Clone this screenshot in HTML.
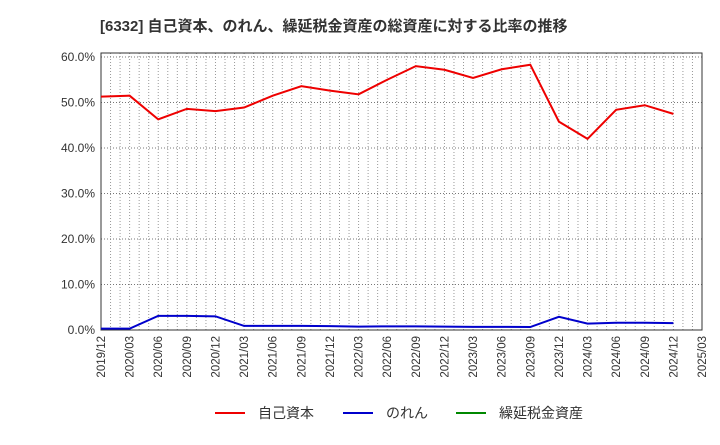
<!DOCTYPE html>
<html><head><meta charset="utf-8"><style>
body{margin:0;background:#fff;font-family:"Liberation Sans","Noto Sans CJK JP",sans-serif}
</style></head><body>
<svg id="c" width="720" height="440" xmlns="http://www.w3.org/2000/svg">
<text x="100" y="31" font-size="15" font-weight="bold" fill="#333" font-family="Liberation Sans, Noto Sans CJK JP, sans-serif">[6332]  自己資本、のれん、繰延税金資産の総資産に対する比率の推移</text>
<g id="grid"></g><g id="axes"></g><g id="series"></g>
<g font-size="14" fill="#333" font-family="Liberation Sans, Noto Sans CJK JP, sans-serif">
<line x1="215" y1="413" x2="245" y2="413" stroke="#e00" stroke-width="2"/><text x="258" y="418">自己資本</text>
<line x1="343" y1="413" x2="373" y2="413" stroke="#00c" stroke-width="2"/><text x="386" y="418">のれん</text>
<line x1="456" y1="413" x2="486" y2="413" stroke="#080" stroke-width="2"/><text x="499" y="418">繰延税金資産</text>
</g>
</svg>
<script>
const xLabels=["2019/12","2020/03","2020/06","2020/09","2020/12","2021/03","2021/06","2021/09","2021/12","2022/03","2022/06","2022/09","2022/12","2023/03","2023/06","2023/09","2023/12","2024/03","2024/06","2024/09","2024/12","2025/03"];
const yTicks=[0,10,20,30,40,50,60];
const equity=[51.3,51.5,46.3,48.6,48.1,48.9,51.5,53.6,52.6,51.8,55.0,58.0,57.2,55.4,57.3,58.3,45.8,42.0,48.4,49.4,47.5];
const goodwill=[0.3,0.3,3.1,3.1,3.0,0.9,0.9,0.9,0.85,0.75,0.8,0.8,0.75,0.7,0.7,0.65,2.9,1.4,1.6,1.6,1.5];
const L=101,R=702,T=53,B=330;
const xs=i=>L+(R-L)*i/(xLabels.length-1);
const ys=v=>B-(B-57)*v/60;
const NS="http://www.w3.org/2000/svg";
function mk(p,t,a){const e=document.createElementNS(NS,t);for(const k in a)e.setAttribute(k,a[k]);p.appendChild(e);return e;}
const g=document.getElementById('grid'),ax=document.getElementById('axes'),s=document.getElementById('series');
for(let m=0;m<=(xLabels.length-1)*3;m++){const x=L+(R-L)*m/((xLabels.length-1)*3);
 const l=mk(g,'line',{x1:x,x2:x,y1:T,y2:B,stroke:'#999','stroke-dasharray':'1,2','stroke-width':1});
 }
yTicks.forEach(v=>{const y=ys(v);
 const l=mk(g,'line',{x1:L,x2:R,y1:y,y2:y,stroke:'#777','stroke-dasharray':'1,2'});
 
 const t=mk(ax,'text',{x:L-6,y:y+4,'text-anchor':'end','font-size':12,fill:'#333'});t.textContent=v.toFixed(1)+'%';
 });
xLabels.forEach((lb,i)=>{const x=xs(i);
 const t=mk(ax,'text',{x:x+4,y:336,'text-anchor':'end','font-size':11.5,fill:'#333',transform:`rotate(-90 ${x+4} 336)`});t.textContent=lb;
 });
const box=mk(ax,'rect',{x:L,y:T,width:R-L,height:B-T,fill:'none',stroke:'#333'});

function line(d,c,n){const p=mk(s,'polyline',{points:d.map((v,i)=>xs(i)+','+ys(v)).join(' '),fill:'none',stroke:c,'stroke-width':2});
 }
line(equity,'#e00','equity-line');line(goodwill,'#00c','goodwill-line');
</script>
</body></html>
